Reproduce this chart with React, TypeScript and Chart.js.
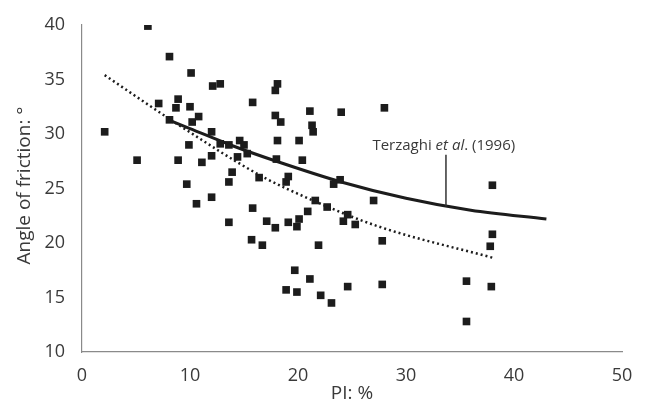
import React, { useEffect, useRef } from "react";
import { Chart, registerables } from "chart.js";

Chart.register(...registerables);

// Measured data: plasticity index (PI, %) vs angle of friction (°)
const PI_VALUES = [
  2.1, 5.1, 6.1, 7.1, 8.1, 8.1, 8.9, 8.7, 8.9, 9.7, 9.9, 10.0, 10.1, 10.2, 10.6, 10.8,
  11.1, 12.0, 12.0, 12.0, 12.1, 12.8, 12.8, 13.6, 13.6, 13.6, 13.9, 14.4, 14.6, 15.0,
  15.3, 15.7, 15.8, 15.8, 16.4, 16.7, 17.1, 17.9, 18.1, 17.9, 18.4, 18.1, 18.0, 17.9,
  18.9, 19.1, 19.1, 18.9, 19.7, 19.9, 19.9, 20.1, 20.1, 20.4, 20.9, 21.1, 21.3, 21.4,
  21.1, 21.6, 21.9, 22.1, 22.7, 23.1, 23.3, 23.9, 24.0, 24.2, 24.6, 24.6, 25.3, 27.0,
  27.8, 27.8, 28.0, 35.6, 35.6, 37.8, 37.9, 38.0, 38.0,
];
const PHI_VALUES = [
  30.2, 27.6, 39.9, 32.8, 37.1, 31.3, 33.2, 32.4, 27.6, 25.4, 29.0, 32.5, 35.6, 31.1, 23.6, 31.6,
  27.4, 30.2, 28.0, 24.2, 34.4, 34.6, 29.1, 29.0, 25.6, 21.9, 26.5, 27.9, 29.4, 29.0,
  28.2, 20.3, 32.9, 23.2, 26.0, 19.8, 22.0, 34.0, 34.6, 31.7, 31.1, 29.4, 27.7, 21.4,
  25.6, 26.1, 21.9, 15.7, 17.5, 15.5, 21.5, 22.2, 29.4, 27.6, 22.9, 32.1, 30.8, 30.2,
  16.7, 23.9, 19.8, 15.2, 23.3, 14.5, 25.4, 25.8, 32.0, 22.0, 22.6, 16.0, 21.7, 23.9,
  20.2, 16.2, 32.4, 16.5, 12.8, 19.7, 16.0, 20.8, 25.3,
];

// Terzaghi et al. (1996) curve (solid)
const TERZ_PI = [8, 10, 14, 18, 24, 30, 36, 43];
const TERZ_PHI = [31.3, 30.5, 28.9, 27.5, 25.6, 24.1, 23.0, 22.2];

// Trend curve of the data (dotted)
const TREND_PI = [2.1, 9, 16.5, 21.4, 27.5, 38.2];
const TREND_PHI = [35.4, 30.8, 26.2, 23.9, 21.5, 18.6];

const X_TICKS = [0, 10, 20, 30, 40, 50];
const Y_TICKS = [10, 15, 20, 25, 30, 35, 40];

const X_TITLE = "PI: %";
const Y_TITLE = "Angle of friction: °";
const ANNOT_MAIN = "Terzaghi ";
const ANNOT_ITALIC = "et al";
const ANNOT_TAIL = ". (1996)";

const TEXT = "#3a3a3a";
const INK = "#1c1c1c";
const FONT = "'Open Sans', 'Noto Sans', sans-serif";

const pts = (xs: number[], ys: number[]) => xs.map((x, i) => ({ x, y: ys[i] }));

const overlay = {
  id: "overlay",
  afterDraw(chart: any) {
    const { ctx, scales, chartArea } = chart;
    const xs = scales.x;
    const ys = scales.y;
    ctx.save();
    ctx.fillStyle = TEXT;
    ctx.textBaseline = "middle";
    // x title
    ctx.font = `19px ${FONT}`;
    ctx.textAlign = "center";
    ctx.fillText(X_TITLE, (chartArea.left + chartArea.right) / 2, 394);
    // y title
    ctx.save();
    ctx.translate(25, (chartArea.top + chartArea.bottom) / 2 - 3);
    ctx.rotate(-Math.PI / 2);
    ctx.fillText(Y_TITLE, 0, 0);
    ctx.restore();
    // annotation text
    const size = 15;
    ctx.textAlign = "left";
    const cx = xs.getPixelForValue(33.5);
    const cy = ys.getPixelForValue(28.9);
    ctx.font = `${size}px ${FONT}`;
    const w1 = ctx.measureText(ANNOT_MAIN).width;
    const w3 = ctx.measureText(ANNOT_TAIL).width;
    ctx.font = `italic ${size}px ${FONT}`;
    const w2 = ctx.measureText(ANNOT_ITALIC).width;
    const start = cx - (w1 + w2 + w3) / 2;
    ctx.font = `${size}px ${FONT}`;
    ctx.fillText(ANNOT_MAIN, start, cy);
    ctx.font = `italic ${size}px ${FONT}`;
    ctx.fillText(ANNOT_ITALIC, start + w1, cy);
    ctx.font = `${size}px ${FONT}`;
    ctx.fillText(ANNOT_TAIL, start + w1 + w2, cy);
    // pointer line
    const ax = xs.getPixelForValue(33.7);
    ctx.strokeStyle = "#333";
    ctx.lineWidth = 1.5;
    ctx.beginPath();
    ctx.moveTo(ax, ys.getPixelForValue(28.1));
    ctx.lineTo(ax, ys.getPixelForValue(23.35));
    ctx.stroke();
    ctx.restore();
  },
};

export default function App() {
  const ref = useRef<HTMLCanvasElement>(null);
  useEffect(() => {
    if (!ref.current) return;
    const chart = new Chart(ref.current, {
      type: "scatter",
      data: {
        datasets: [
          {
            data: pts(PI_VALUES, PHI_VALUES),
            pointStyle: "rect",
            pointRadius: 5.4,
            pointBackgroundColor: INK,
            pointBorderColor: INK,
            pointBorderWidth: 0,
            showLine: false,
          },
          {
            data: pts(TERZ_PI, TERZ_PHI),
            showLine: true,
            pointRadius: 0,
            borderColor: INK,
            borderWidth: 3,
            cubicInterpolationMode: "monotone",
          },
          {
            data: pts(TREND_PI, TREND_PHI),
            showLine: true,
            pointRadius: 0,
            borderColor: INK,
            borderWidth: 2.5,
            borderDash: [2, 3],
            cubicInterpolationMode: "monotone",
          },
        ],
      },
      options: {
        animation: false,
        responsive: false,
        layout: { padding: { top: 25, right: 26, left: 0, bottom: 0 } },
        plugins: { legend: { display: false }, tooltip: { enabled: false } },
        scales: {
          x: {
            type: "linear",
            min: 0,
            max: 50,
            afterBuildTicks: (s: any) => {
              s.ticks = X_TICKS.map((v) => ({ value: v }));
            },
            afterFit: (s: any) => {
              s.height = 53;
            },
            grid: { display: false },
            border: { display: true, color: "#8a8a8a", width: 1.2 },
            ticks: { color: TEXT, font: { family: FONT, size: 18 }, padding: 5 },
          },
          y: {
            type: "linear",
            min: 10,
            max: 40,
            afterBuildTicks: (s: any) => {
              s.ticks = Y_TICKS.map((v) => ({ value: v }));
            },
            afterFit: (s: any) => {
              s.width = 82;
            },
            grid: { display: false },
            border: { display: true, color: "#8a8a8a", width: 1.2 },
            ticks: { color: TEXT, font: { family: FONT, size: 18 }, padding: 9 },
          },
        },
      },
      plugins: [overlay],
    });
    return () => chart.destroy();
  }, []);
  return (
    <div style={{ position: "fixed", left: 0, top: 0, width: 648, height: 405, background: "#fff" }}>
      <canvas ref={ref} width={648} height={405} />
    </div>
  );
}
